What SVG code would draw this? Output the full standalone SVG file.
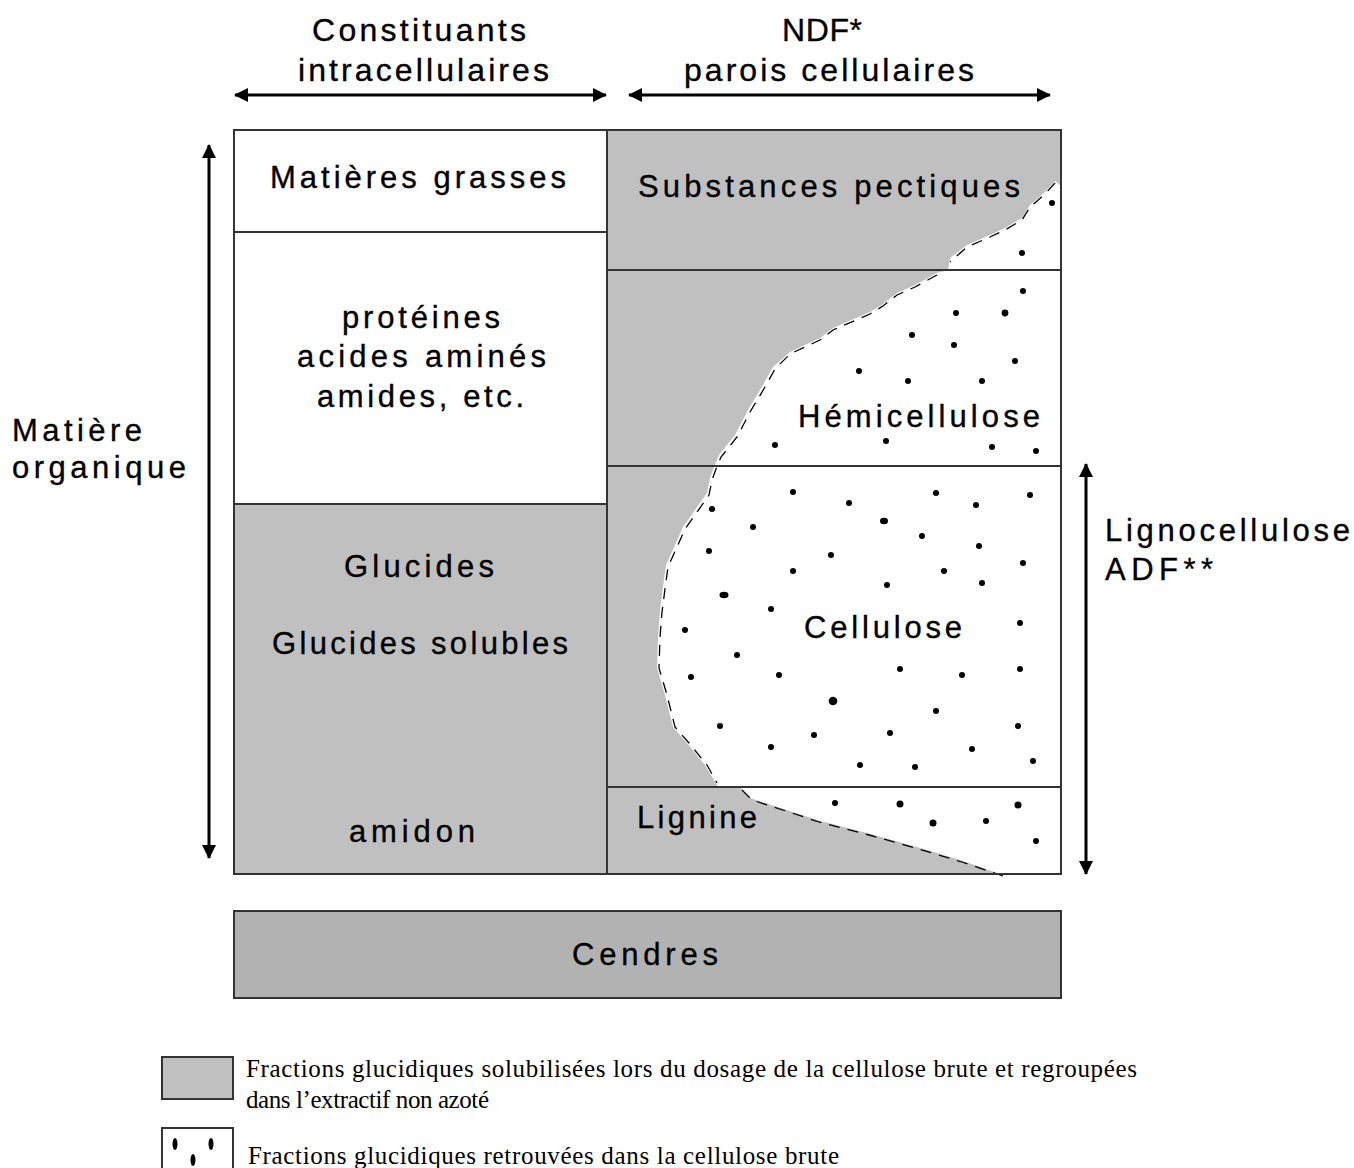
<svg xmlns="http://www.w3.org/2000/svg" width="1354" height="1168" viewBox="0 0 1354 1168">
<style>
.t{font-family:"Liberation Sans",Arial,sans-serif;font-size:31px;fill:#000;stroke:#000;stroke-width:0.35}
.h{font-size:32px}
.lg{font-family:"Liberation Serif","Times New Roman",serif;font-size:25px;fill:#000}
.bx{stroke:#333;stroke-width:2}
.gr{fill:#c0c0c0}
.wh{fill:#fff}
.arr{stroke:#000;stroke-width:3;fill:none}
.dash{fill:none;stroke:#000;stroke-width:1.3;stroke-dasharray:11 8}
.dots circle,.dots ellipse{fill:#000}
</style>
<defs>
<marker id="ah" viewBox="0 0 14 14" refX="13" refY="7" markerWidth="14" markerHeight="14" markerUnits="userSpaceOnUse" orient="auto-start-reverse">
<path d="M0,0 L14,7 L0,14 Z" fill="#000"/>
</marker>
</defs>
<rect width="1354" height="1168" fill="#fff"/>

<g id="connectors">
<line class="arr" x1="235" y1="95" x2="606" y2="95" marker-start="url(#ah)" marker-end="url(#ah)"/>
<line class="arr" x1="629" y1="95" x2="1050" y2="95" marker-start="url(#ah)" marker-end="url(#ah)"/>
<line class="arr" x1="209" y1="145" x2="209" y2="858" marker-start="url(#ah)" marker-end="url(#ah)"/>
<line class="arr" x1="1086" y1="464" x2="1086" y2="874" marker-start="url(#ah)" marker-end="url(#ah)"/>
</g>

<g id="header-intra">
<text class="t h" x="312" y="41" textLength="214" lengthAdjust="spacing">Constituants</text>
<text class="t h" x="298" y="81" textLength="251" lengthAdjust="spacing">intracellulaires</text>
</g>
<g id="header-ndf">
<text class="t h" x="782" y="41" textLength="80" lengthAdjust="spacing">NDF*</text>
<text class="t h" x="684" y="81" textLength="290" lengthAdjust="spacing">parois cellulaires</text>
</g>
<g id="label-matiere-organique">
<text class="t" x="12" y="441" textLength="130" lengthAdjust="spacing">Matière</text>
<text class="t" x="12" y="478" textLength="174" lengthAdjust="spacing">organique</text>
</g>
<g id="label-lignocellulose">
<text class="t" x="1105" y="541" textLength="245" lengthAdjust="spacing">Lignocellulose</text>
<text class="t" x="1105" y="580" textLength="108" lengthAdjust="spacing">ADF**</text>
</g>

<g id="matieres-grasses">
<rect class="wh bx" x="234" y="130" width="373" height="102"/>
<text class="t" x="270" y="188" textLength="296" lengthAdjust="spacing">Matières grasses</text>
</g>
<g id="proteines">
<rect class="wh bx" x="234" y="232" width="373" height="272"/>
<text class="t" x="342" y="328" textLength="158" lengthAdjust="spacing">protéines</text>
<text class="t" x="297" y="367" textLength="249" lengthAdjust="spacing">acides aminés</text>
<text class="t" x="317" y="407" textLength="207" lengthAdjust="spacing">amides, etc.</text>
</g>
<g id="glucides">
<rect class="gr bx" x="234" y="504" width="373" height="370"/>
<text class="t" x="344" y="577" textLength="150" lengthAdjust="spacing">Glucides</text>
<text class="t" x="272" y="654" textLength="296" lengthAdjust="spacing">Glucides solubles</text>
<text class="t" x="349" y="842" textLength="126" lengthAdjust="spacing">amidon</text>
</g>

<g id="parois">
<rect class="gr" x="607" y="130" width="454" height="744"/>
<path class="wh" d="M1055,181 L1045,192 L1030,205 L1022,218 L1005,228 L990,235 L967,245 L950,258 L948,270 L937,273 L915,285 L897,293 L883,304 L870,312 L833,328 L820,338 L790,352 L773,367 L763,385 L748,410 L735,435 L719,455 L714,467 L710,478 L707,493 L695,510 L683,527 L675,545 L666,565 L663,587 L660,610 L658,637 L657,668 L665,695 L673,727 L687,743 L705,765 L717,785 L717,787 L740,787 L750,798 L787,810 L817,820 L867,833 L917,847 L960,860 L1003,875 L1061,875 L1061,186 Z"/>
<path class="dash" d="M1055,183 L1045,194 L1030,207 L1022,220 L1005,230 L990,237 L967,247 L950,262"/>
<path class="dash" d="M937,275 L915,287 L897,295 L883,306 L870,314 L833,330 L820,340 L790,354 L775,369 L765,387 L750,412 L737,437 L721,457 L716,469 L712,480 L709,495 L697,512 L685,529 L677,547 L668,567 L665,589 L662,612 L660,637 L659,668 L667,695 L675,727 L689,743 L707,765 L717,783"/>
<path class="dash" d="M742,790 L752,800 L789,812 L819,822 L869,835 L919,849 L962,862 L1003,876"/>
<g class="dots">
<circle cx="1052" cy="203" r="3"/><circle cx="1022" cy="253" r="3"/><circle cx="1023" cy="291" r="3"/>
<circle cx="956" cy="313" r="3"/><circle cx="1005" cy="313" r="3.4"/><circle cx="912" cy="335" r="3"/>
<circle cx="954" cy="345" r="3"/><circle cx="1015" cy="361" r="3"/><circle cx="859" cy="371" r="3"/>
<circle cx="908" cy="381" r="3"/><circle cx="982" cy="381" r="3"/><circle cx="775" cy="445" r="3"/>
<circle cx="886" cy="441" r="3"/><circle cx="992" cy="447" r="3"/><circle cx="1036" cy="451" r="3"/>
<circle cx="793" cy="492" r="3"/><circle cx="936" cy="493" r="3"/><circle cx="1030" cy="495" r="3"/>
<circle cx="849" cy="503" r="3"/><circle cx="976" cy="505" r="3"/><circle cx="712" cy="509" r="3"/>
<ellipse cx="884" cy="521" rx="4" ry="3.2"/><circle cx="753" cy="527" r="3"/><circle cx="922" cy="536" r="3"/>
<circle cx="979" cy="546" r="3"/><circle cx="709" cy="551" r="3"/><circle cx="831" cy="555" r="3"/>
<circle cx="793" cy="571" r="3"/><circle cx="944" cy="571" r="3"/><circle cx="1023" cy="563" r="3"/>
<circle cx="887" cy="585" r="3"/><circle cx="982" cy="583" r="3"/><ellipse cx="724" cy="595" rx="4.5" ry="3.3"/>
<circle cx="771" cy="609" r="3"/><circle cx="685" cy="630" r="3"/><circle cx="1020" cy="623" r="3"/>
<circle cx="737" cy="655" r="3"/><circle cx="691" cy="677" r="3"/><circle cx="779" cy="675" r="3"/>
<circle cx="900" cy="669" r="3"/><circle cx="962" cy="675" r="3"/><circle cx="1020" cy="669" r="3"/>
<circle cx="833" cy="701" r="4.3"/><circle cx="936" cy="711" r="3"/><circle cx="720" cy="726" r="3"/>
<circle cx="814" cy="735" r="3"/><circle cx="890" cy="733" r="3"/><circle cx="1018" cy="726" r="3"/>
<circle cx="771" cy="747" r="3"/><circle cx="972" cy="749" r="3"/><circle cx="860" cy="765" r="3"/>
<circle cx="915" cy="767" r="3"/><circle cx="1033" cy="761" r="3"/>
<circle cx="835" cy="803" r="3"/><circle cx="900" cy="804" r="3.5"/><circle cx="1018" cy="805" r="3.5"/>
<circle cx="933" cy="823" r="3.5"/><circle cx="986" cy="821" r="3"/><circle cx="1036" cy="841" r="3"/>
</g>
</g>
<g id="substances-pectiques">
<line class="bx" x1="607" y1="270" x2="1061" y2="270"/>
<text class="t" x="638" y="197" textLength="382" lengthAdjust="spacing">Substances pectiques</text>
</g>
<g id="hemicellulose">
<line class="bx" x1="607" y1="466" x2="1061" y2="466"/>
<text class="t" x="798" y="427" textLength="242" lengthAdjust="spacing">Hémicellulose</text>
</g>
<g id="cellulose">
<line class="bx" x1="607" y1="787" x2="1061" y2="787"/>
<text class="t" x="804" y="638" textLength="158" lengthAdjust="spacing">Cellulose</text>
</g>
<g id="lignine">
<text class="t" x="637" y="828" textLength="120" lengthAdjust="spacing">Lignine</text>
</g>
<g id="parois-border">
<rect class="bx" x="607" y="130" width="454" height="744" fill="none"/>
</g>

<g id="cendres">
<rect class="bx" x="234" y="911" width="827" height="87" fill="#b2b2b2"/>
<text class="t" x="572" y="965" textLength="146" lengthAdjust="spacing">Cendres</text>
</g>

<g id="legend-gris">
<rect class="gr bx" x="162" y="1057" width="71" height="42" stroke="#000"/>
<text class="lg" x="246" y="1077" textLength="891" lengthAdjust="spacing">Fractions glucidiques solubilisées lors du dosage de la cellulose brute et regroupées</text>
<text class="lg" x="246" y="1108" textLength="243" lengthAdjust="spacing">dans l’extractif non azoté</text>
</g>
<g id="legend-points">
<rect class="wh bx" x="162" y="1128" width="71" height="60" stroke="#000"/>
<ellipse cx="175" cy="1144" rx="2.5" ry="6" fill="#000"/>
<ellipse cx="211" cy="1144" rx="2.5" ry="6" fill="#000"/>
<ellipse cx="193" cy="1160" rx="2.5" ry="6" fill="#000"/>
<text class="lg" x="248" y="1164" textLength="591" lengthAdjust="spacing">Fractions glucidiques retrouvées dans la cellulose brute</text>
</g>
</svg>
